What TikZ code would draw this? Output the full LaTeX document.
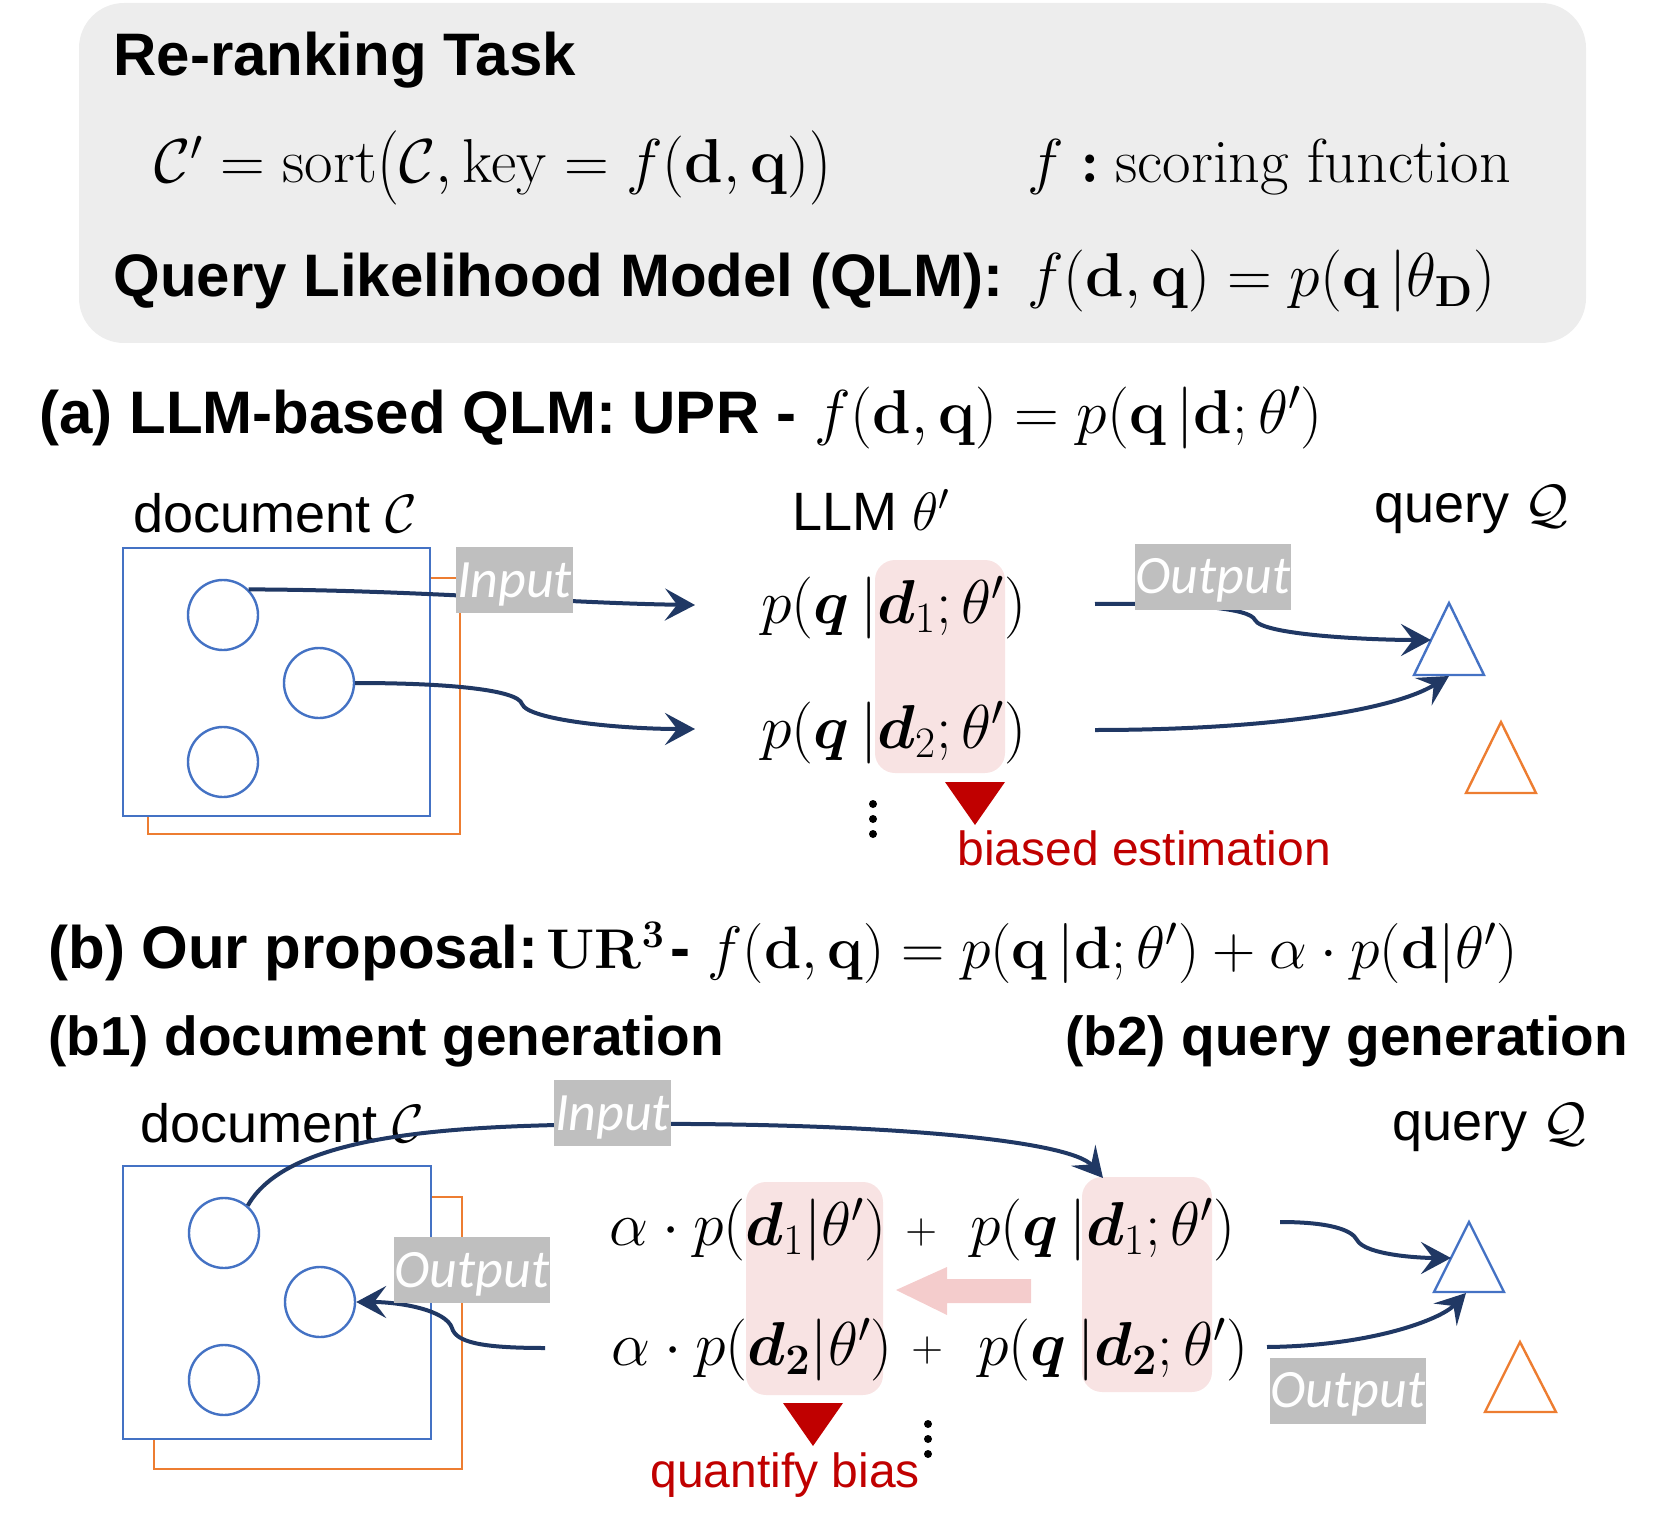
\RequirePackage{fix-cm}
\documentclass[tikz,border=0pt]{standalone}
\usepackage{amsmath}
\usepackage{bm}
\usepackage{graphicx}
\usepackage[no-math]{fontspec}
\newfontfamily\arial{Liberation Sans}
\newfontfamily\carl{Carlito}
\usetikzlibrary{arrows.meta}
\definecolor{navy}{HTML}{203864}
\definecolor{cblue}{HTML}{4472C4}
\definecolor{corange}{HTML}{ED7D31}
\definecolor{dred}{HTML}{C00000}
\definecolor{lgray}{HTML}{EDEDED}
\definecolor{tagray}{HTML}{BFBFBF}
\definecolor{pinkbox}{HTML}{F8E3E3}
\definecolor{pinkarrow}{HTML}{F4CCCC}
\newcommand{\mylp}{\mathopen{\raisebox{-0.05em}{\scalebox{1}[1.2]{$($}}}}
\newcommand{\myrp}{\mathclose{\raisebox{-0.05em}{\scalebox{1}[1.2]{$)$}}}}
\begin{document}
\begin{tikzpicture}[x=0.5pt,y=-0.5pt,
  hd/.style={anchor=base west,inner sep=0pt,font=\fontsize{30}{36}\selectfont\arial\bfseries},
  subhd/.style={anchor=base west,inner sep=0pt,font=\fontsize{27.5}{33}\selectfont\arial\bfseries},
  mth/.style={anchor=base west,inner sep=0pt,font=\fontsize{31}{37}\selectfont},
  plus/.style={anchor=base west,inner sep=0pt,font=\fontsize{22}{26}\selectfont},
  lbl/.style={anchor=base west,inner sep=0pt,font=\fontsize{27}{32}\selectfont\arial},
  note/.style={anchor=base west,inner sep=0pt,text=dred,font=\fontsize{24}{29}\selectfont\arial},
  iotag/.style={fill=tagray,text=white,inner sep=0pt,font=\fontsize{27}{32}\selectfont\carl\itshape,text height=17.4pt,text depth=0pt,minimum height=33pt},
  docbox/.style={draw=cblue,line width=1.1pt,fill=white},
  backbox/.style={draw=corange,line width=1.1pt},
  dot/.style={circle,draw=cblue,line width=1.2pt,minimum size=35pt,inner sep=0pt},
  arr/.style={draw=navy,line width=2pt,-{Stealth[length=15pt,width=16pt,inset=6pt]}},
  tri/.style={line width=1.2pt,line join=miter},
  pinkbg/.style={fill=pinkbox,rounded corners=10pt},
  vdot/.style={fill=black}
]
\useasboundingbox (0,0) rectangle (1661,1530);

% ---------- task box ----------
\fill[lgray,rounded corners=22.5pt] (79,3) rectangle (1586,343);
\node[hd] (title) at (113,76) {Re-ranking Task};
\node[mth] (sortf) at (154,183) {$\mathcal{C}'=\mathrm{sort}\mylp\mathcal{C},\mathrm{key}=f(\mathbf{d},\mathbf{q})\myrp$};
\node[mth] (fsym) at (1027,183) {$f$};
\node[mth] (fcolon) at (1080,183) {$\boldsymbol{:}$};
\node[mth] (fdesc) at (1115,183) {scoring function};
\node[hd] (qlm) at (113,297) {Query Likelihood Model (QLM):};
\node[mth] (qlmf) at (1027,297) {$f(\mathbf{d},\mathbf{q})=p(\mathbf{q}\,|\theta_{\mathbf{D}})$};

% ---------- (a) ----------
\node[hd] (ahead) at (39,433) {(a) LLM-based QLM: UPR -};
\node[mth] (aheadf) at (814,433) {$f(\mathbf{d},\mathbf{q})=p(\mathbf{q}\,|\mathbf{d};\theta')$};

\node[lbl] (adoc) at (133,532) {document $\mathcal{C}$};
\node[lbl] (allm) at (792,530) {LLM $\theta'$};
\node[lbl] (aquery) at (1374,522) {query $\mathcal{Q}$};

\draw[backbox] (148,578) rectangle (460,834);
\draw[docbox] (123,548) rectangle (430,816);
\node[dot] (ac1) at (223,615) {};
\node[dot] (ac2) at (319,683) {};
\node[dot] (ac3) at (223,762) {};

\fill[pinkbg] (875,560) rectangle (1005,773);
\node[mth] (ra1) at (761,623) {$p(\bm{q}\,|\bm{d}_1;\theta')$};
\node[mth] (ra2) at (761,748) {$p(\bm{q}\,|\bm{d}_2;\theta')$};
\fill[dred] (945,782) -- (1005,782) -- (975,825) -- cycle;
\fill[vdot] (873,804) circle (4);
\fill[vdot] (873,819) circle (4);
\fill[vdot] (873,834) circle (4);
\node[note] (abias) at (957,865) {biased estimation};

\draw[tri,cblue] (1449,603) -- (1414,675) -- (1484,675) -- cycle;
\draw[tri,corange] (1501,722) -- (1466,793) -- (1536,793) -- cycle;

\coordinate (ta1) at (695,605);
\coordinate (ta2) at (695,729);
\coordinate (sa1) at (1095,604);
\coordinate (sa2) at (1095,730);
\coordinate (qa1) at (1431,640);
\coordinate (qa2) at (1449,676);

\draw[arr] (ac1.45) .. controls (420,590) and (560,603) .. (ta1);
\draw[arr] (ac2.east) .. controls (450,683) and (518,690) .. (522,704) .. controls (528,720) and (620,729) .. (ta2);
\draw[arr] (sa1) .. controls (1190,603) and (1250,608) .. (1255,620) .. controls (1262,635) and (1370,640) .. (qa1);
\draw[arr] (sa2) .. controls (1260,730) and (1390,712) .. (qa2);

\node[iotag,minimum width=58.5pt] (ain) at (514.5,580) {Input};
\node[iotag,minimum width=78pt] (aout) at (1213,576.5) {Output};

% ---------- (b) ----------
\node[hd] (bhead) at (48,968) {(b) Our proposal:};
\node[mth,font=\fontsize{28}{34}\selectfont] (bur) at (546,968) {$\mathbf{UR^3}$};
\node[hd] (bdash) at (670,968) {-};
\node[mth,font=\fontsize{30}{36}\selectfont] (bheadf) at (707,968) {$f(\mathbf{d},\mathbf{q})=p(\mathbf{q}\,|\mathbf{d};\theta')+\alpha\cdot p(\mathbf{d}|\theta')$};
\node[subhd] (bone) at (48,1055) {(b1) document generation};
\node[subhd] (btwo) at (1065,1055) {(b2) query generation};

\node[lbl] (bdoc) at (140,1142) {document $\mathcal{C}$};
\node[lbl] (bquery) at (1392,1140) {query $\mathcal{Q}$};

\draw[backbox] (154,1197) rectangle (462,1469);
\draw[docbox] (123,1166) rectangle (431,1439);
\node[dot] (bc1) at (224,1233) {};
\node[dot] (bc2) at (320,1302) {};
\node[dot] (bc3) at (224,1380) {};

\fill[pinkbg] (746,1182) rectangle (883,1395);
\fill[pinkbg] (1082,1177) rectangle (1212,1392);
\fill[pinkarrow] (896,1290) -- (947,1267) -- (947,1279) -- (1031,1279) -- (1031,1303) -- (947,1303) -- (947,1315) -- cycle;

\node[mth] (rb1l) at (609,1245) {$\alpha\cdot p(\bm{d}_1|\theta')$};
\node[plus] (rb1p) at (905,1243) {$+$};
\node[mth] (rb1r) at (970,1245) {$p(\bm{q}\,|\bm{d}_1;\theta')$};
\node[mth] (rb2l) at (611,1365) {$\alpha\cdot p(\bm{d}_{\mathbf{2}}|\theta')$};
\node[plus] (rb2p) at (911,1361) {$+$};
\node[mth] (rb2r) at (978,1365) {$p(\bm{q}\,|\bm{d}_{\mathbf{2}};\theta')$};

\fill[dred] (783,1403) -- (843,1403) -- (813,1446) -- cycle;
\fill[vdot] (928,1424) circle (4);
\fill[vdot] (928,1439) circle (4);
\fill[vdot] (928,1454) circle (4);
\node[note] (bbias) at (650,1487) {quantify bias};

\draw[tri,cblue] (1469,1222) -- (1434,1292) -- (1504,1292) -- cycle;
\draw[tri,corange] (1520,1342) -- (1485,1412) -- (1556,1412) -- cycle;

\coordinate (tb1) at (1103,1178);
\coordinate (sb0) at (545,1348);
\coordinate (sb1) at (1280,1222);
\coordinate (sb2) at (1267,1347);
\coordinate (qb1) at (1451,1258);
\coordinate (qb2) at (1466,1293);

\draw[arr] (bc1.49) .. controls (290,1130) and (470,1126) .. (612,1124) .. controls (880,1122) and (1070,1140) .. (tb1);
\draw[arr] (sb0) .. controls (480,1348) and (456,1342) .. (452,1328) .. controls (446,1310) and (400,1302) .. (bc2.east);
\draw[arr] (sb1) .. controls (1330,1222) and (1352,1230) .. (1357,1240) .. controls (1365,1255) and (1420,1258) .. (qb1);
\draw[arr] (sb2) .. controls (1370,1346) and (1440,1320) .. (qb2);

\node[iotag,minimum width=58.5pt] (bin) at (612.5,1113) {Input};
\node[iotag,minimum width=78pt] (bout1) at (472,1270) {Output};
\node[iotag,minimum width=78pt] (bout2) at (1348,1390.5) {Output};
\end{tikzpicture}
\end{document}
